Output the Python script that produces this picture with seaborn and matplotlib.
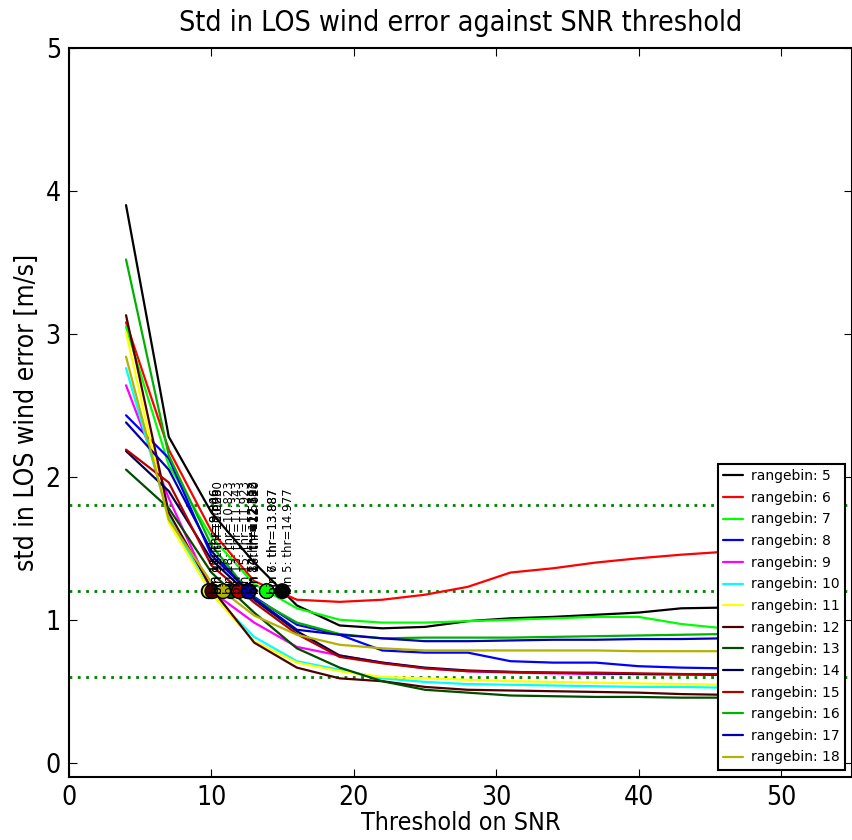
import numpy as np
import pandas as pd
import matplotlib
matplotlib.use("Agg")
import matplotlib.pyplot as plt
import seaborn as sns

# umbral de SNR evaluado
snr = [4, 7, 10, 13, 16, 19, 22, 25, 28, 31, 34, 37, 40, 43, 46, 49, 52]

bins = [5, 6, 7, 8, 9, 10, 11, 12, 13, 14, 15, 16, 17, 18]

std_5 = [3.90, 2.28, 1.75, 1.40, 1.10, 0.96, 0.94, 0.95, 0.99, 1.01, 1.02, 1.035, 1.05, 1.08, 1.085, 1.09, 1.09]
std_6 = [3.08, 2.19, 1.62, 1.27, 1.14, 1.125, 1.14, 1.175, 1.23, 1.33, 1.36, 1.40, 1.43, 1.455, 1.475, 1.50, 1.52]
std_7 = [3.05, 2.08, 1.58, 1.25, 1.08, 1.00, 0.98, 0.98, 0.99, 1.00, 1.01, 1.02, 1.02, 0.97, 0.94, 0.93, 0.93]
std_8 = [2.43, 2.13, 1.45, 1.16, 0.965, 0.895, 0.785, 0.77, 0.77, 0.71, 0.70, 0.70, 0.675, 0.665, 0.66, 0.66, 0.655]
std_9 = [2.64, 1.85, 1.20, 0.98, 0.81, 0.75, 0.70, 0.66, 0.64, 0.63, 0.625, 0.62, 0.62, 0.615, 0.615, 0.61, 0.61]
std_10 = [2.76, 1.72, 1.18, 0.88, 0.71, 0.65, 0.59, 0.565, 0.55, 0.545, 0.54, 0.535, 0.53, 0.53, 0.525, 0.525, 0.52]
std_11 = [3.01, 1.68, 1.18, 0.85, 0.70, 0.64, 0.60, 0.59, 0.58, 0.57, 0.565, 0.56, 0.555, 0.55, 0.545, 0.545, 0.54]
std_12 = [3.13, 1.75, 1.22, 0.84, 0.665, 0.59, 0.57, 0.53, 0.51, 0.505, 0.50, 0.495, 0.49, 0.48, 0.475, 0.475, 0.47]
std_13 = [2.05, 1.78, 1.33, 1.05, 0.80, 0.665, 0.57, 0.51, 0.49, 0.47, 0.465, 0.46, 0.46, 0.455, 0.455, 0.455, 0.45]
std_14 = [2.18, 1.90, 1.42, 1.14, 0.92, 0.75, 0.70, 0.665, 0.645, 0.635, 0.63, 0.625, 0.62, 0.62, 0.615, 0.615, 0.615]
std_15 = [2.19, 1.96, 1.38, 1.12, 0.90, 0.74, 0.695, 0.66, 0.64, 0.635, 0.63, 0.63, 0.625, 0.62, 0.62, 0.62, 0.615]
std_16 = [3.52, 2.15, 1.52, 1.15, 0.98, 0.90, 0.87, 0.875, 0.875, 0.875, 0.88, 0.885, 0.89, 0.895, 0.90, 0.90, 0.905]
std_17 = [2.38, 2.05, 1.48, 1.15, 0.93, 0.895, 0.87, 0.85, 0.85, 0.855, 0.86, 0.86, 0.865, 0.865, 0.87, 0.87, 0.87]
std_18 = [2.84, 1.70, 1.26, 1.03, 0.895, 0.825, 0.80, 0.785, 0.785, 0.785, 0.785, 0.785, 0.78, 0.78, 0.78, 0.78, 0.78]

# umbral donde cada curva cruza 1.2 m/s
umbrales = [14.977, 13.887, 13.887, 12.578, 10.023, 9.806, 9.846, 10.060, 11.343, 12.512, 11.923, 12.620, 12.593, 10.823]

niveles = [0.6, 1.2, 1.8]

colores = ['k', '#ff0000', '#00ff00', '#0000ff', '#ff00ff', '#00ffff', '#ffff00',
           '#4c0000', '#004c00', '#00004c', '#b20000', '#00b200', '#0000b2', '#b2b200']

todas = [std_5, std_6, std_7, std_8, std_9, std_10, std_11, std_12, std_13,
         std_14, std_15, std_16, std_17, std_18]

df = pd.concat([
    pd.DataFrame({'snr': snr, 'std': s, 'bin': 'rangebin: %d' % b})
    for b, s in zip(bins, todas)
])
df_thr = pd.DataFrame({'thr': umbrales, 'nivel': 1.2,
                       'bin': ['rangebin: %d' % b for b in bins]})
paleta = dict(zip(['rangebin: %d' % b for b in bins], colores))

sns.set_style('ticks')
plt.rcParams['font.family'] = ['DejaVu Sans']
plt.rcParams['xtick.direction'] = 'in'
plt.rcParams['ytick.direction'] = 'in'
plt.rcParams['text.color'] = 'k'
plt.rcParams['axes.labelcolor'] = 'k'
plt.rcParams['xtick.color'] = 'k'
plt.rcParams['ytick.color'] = 'k'
plt.rcParams['axes.edgecolor'] = 'k'

fig = plt.figure(figsize=(8.53, 8.4), dpi=100)
ax = fig.add_axes([0.081, 0.075, 0.918, 0.868])

for n in niveles:
    ax.axhline(n, color='#008000', linestyle=(0, (1, 2)), lw=2)

sns.lineplot(data=df, x='snr', y='std', hue='bin', palette=paleta, lw=1.6, ax=ax)

sns.scatterplot(data=df_thr, x='thr', y='nivel', hue='bin', palette=paleta,
                s=110, edgecolor='k', linewidth=1, legend=False, ax=ax, zorder=5)
for b, t in zip(bins, umbrales):
    ax.text(t, 1.2, 'bin %d: thr=%.3f' % (b, t), rotation=90, fontsize=8.5, zorder=6)

ax.set_xlim(0, 55)
ax.set_ylim(-0.1, 5)
ax.set_xticks([0, 10, 20, 30, 40, 50])
ax.set_yticks([0, 1, 2, 3, 4, 5])
ax.tick_params(axis='both', labelsize=19, length=6, top=True, right=True)
ax.tick_params(axis='x', pad=6)
ax.tick_params(axis='y', pad=6)
for lbl in ax.get_xticklabels() + ax.get_yticklabels():
    lbl.set_fontstretch('condensed')
for sp in ax.spines.values():
    sp.set_linewidth(1.5)

ax.set_xlabel('Threshold on SNR', fontsize=18, fontstretch='condensed', labelpad=0)
ax.set_ylabel('std in LOS wind error [m/s]', fontsize=19, fontstretch='condensed')
ax.set_title('Std in LOS wind error against SNR threshold', fontsize=20.5,
             fontstretch='condensed', pad=12)

leg = ax.legend(loc='lower right', fontsize=10, handlelength=1.4, handletextpad=0.6,
                fancybox=False, framealpha=1, edgecolor='k', borderaxespad=0.5,
                labelspacing=0.55)
leg.get_frame().set_linewidth(1.5)

fig.savefig('out.png', dpi=100)
